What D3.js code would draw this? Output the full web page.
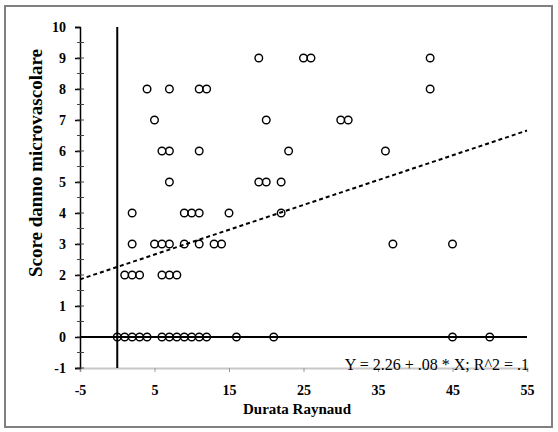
<!DOCTYPE html>
<html>
<head>
<meta charset="utf-8">
<script src="https://cdn.jsdelivr.net/npm/d3@7"></script>
<style>
  body { margin: 0; background: #fff; }
  svg { display: block; }
</style>
</head>
<body>
<div id="chart"></div>
<script>
// values
var durata = [19, 25, 26, 42,
              4, 7, 11, 12, 42,
              5, 20, 30, 31,
              6, 7, 11, 23, 36,
              7, 19, 20, 22,
              2, 9, 10, 11, 15, 22,
              2, 5, 6, 7, 9, 11, 13, 14, 37, 45,
              1, 2, 3, 6, 7, 8,
              0, 1, 2, 3, 4, 6, 7, 8, 9, 10, 11, 12, 16, 21, 45, 50];
var score = [9, 9, 9, 9,
             8, 8, 8, 8, 8,
             7, 7, 7, 7,
             6, 6, 6, 6, 6,
             5, 5, 5, 5,
             4, 4, 4, 4, 4, 4,
             3, 3, 3, 3, 3, 3, 3, 3, 3, 3,
             2, 2, 2, 2, 2, 2,
             0, 0, 0, 0, 0, 0, 0, 0, 0, 0, 0, 0, 0, 0, 0, 0];
var xTicks = [-5, 5, 15, 25, 35, 45, 55];
var yTicks = [-1, 0, 1, 2, 3, 4, 5, 6, 7, 8, 9, 10];
var intercept = 2.26, slope = 0.08;
var equation = "Y = 2.26 + .08 * X; R^2 = .1";

var width = 558, height = 432;

var svg = d3.select("#chart")
  .append("svg")
    .attr("width", width)
    .attr("height", height);

// frame
svg.append("rect")
  .attr("x", 5).attr("y", 6)
  .attr("width", 547).attr("height", 421)
  .attr("fill", "none")
  .attr("stroke", "#808080")
  .attr("stroke-width", 2);

var x = d3.scaleLinear().domain([-5, 55]).range([80, 527]);
var y = d3.scaleLinear().domain([-1, 10]).range([368, 27]);

// x axis (light, at -1)
var xAxis = svg.append("g")
  .attr("transform", "translate(0," + y(-1) + ")")
  .call(d3.axisBottom(x).tickValues(xTicks).tickSize(4).tickFormat(function(d) { return String(d); }));
xAxis.select(".domain").attr("stroke", "#c8c8c8").attr("stroke-width", 2);
xAxis.selectAll(".tick line").attr("stroke", "#999");
xAxis.selectAll("text")
  .attr("font-family", "Liberation Serif")
  .attr("font-size", "14px")
  .attr("font-weight", "bold")
  .attr("fill", "#000")
  .attr("dy", "1.4em");

// y axis
var yAxis = svg.append("g")
  .attr("transform", "translate(" + x(-5) + ",0)")
  .call(d3.axisLeft(y).tickValues(yTicks).tickSize(5).tickPadding(9).tickFormat(function(d) { return String(d); }));
yAxis.select(".domain").attr("stroke", "#000").attr("stroke-width", 1.5);
yAxis.selectAll(".tick line").attr("stroke", "#000").attr("stroke-width", 1.5);
yAxis.selectAll("text")
  .attr("font-family", "Liberation Serif")
  .attr("font-size", "14px")
  .attr("font-weight", "bold")
  .attr("fill", "#000");

// minor ticks on y axis
svg.append("g").selectAll("line")
  .data(d3.range(-1, 10, 0.5))
  .enter()
  .append("line")
  .attr("x1", x(-5) - 3).attr("x2", x(-5) + 4)
  .attr("y1", function(d) { return y(d); })
  .attr("y2", function(d) { return y(d); })
  .attr("stroke", "#444")
  .attr("stroke-width", 1);

// reference lines at 0
svg.append("line")
  .attr("x1", x(-5)).attr("x2", x(55))
  .attr("y1", y(0)).attr("y2", y(0))
  .attr("stroke", "#000").attr("stroke-width", 2);
svg.append("line")
  .attr("x1", x(0)).attr("x2", x(0))
  .attr("y1", y(-1)).attr("y2", y(10))
  .attr("stroke", "#000").attr("stroke-width", 2);

// regression line
svg.append("line")
  .attr("x1", x(-5)).attr("x2", x(55))
  .attr("y1", y(intercept + slope * -5))
  .attr("y2", y(intercept + slope * 55))
  .attr("stroke", "#000")
  .attr("stroke-width", 2)
  .attr("stroke-dasharray", "4,3");

// points
svg.selectAll("circle.pt")
  .data(durata)
  .enter()
  .append("circle")
  .attr("class", "pt")
  .attr("cx", function(d) { return x(d); })
  .attr("cy", function(d, i) { return y(score[i]); })
  .attr("r", 3.8)
  .attr("fill", "none")
  .attr("stroke", "#000")
  .attr("stroke-width", 1.4);

// equation
svg.append("text")
  .attr("x", x(55) + 2)
  .attr("y", y(-1) + 2)
  .attr("text-anchor", "end")
  .attr("font-family", "Liberation Serif")
  .attr("font-size", "16px")
  .attr("fill", "#000")
  .text(equation);

// axis titles
svg.append("text")
  .attr("x", 297)
  .attr("y", 414)
  .attr("text-anchor", "middle")
  .attr("font-family", "Liberation Serif")
  .attr("font-size", "15px")
  .attr("font-weight", "bold")
  .text("Durata Raynaud");

svg.append("text")
  .attr("transform", "translate(42,163) rotate(-90)")
  .attr("text-anchor", "middle")
  .attr("font-family", "Liberation Serif")
  .attr("font-size", "19px")
  .attr("font-weight", "bold")
  .text("Score danno microvascolare");
</script>
</body>
</html>
